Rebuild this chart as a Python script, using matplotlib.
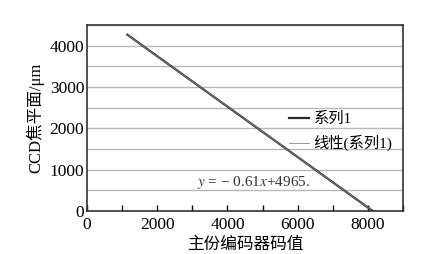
import matplotlib.pyplot as plt
import numpy as np

plt.rcParams['font.family'] = ['Liberation Serif', 'Noto Sans CJK SC']
plt.rcParams['axes.unicode_minus'] = False
plt.rcParams['mathtext.fontset'] = 'stix'

# 数据
x_code = [1150, 2000, 3000, 4000, 5000, 6000, 7000, 8140]
y_focus = [4265, 3745, 3135, 2525, 1915, 1305, 695, 0]
slope = -0.61
intercept = 4965

fig = plt.figure(figsize=(4.43, 2.54), dpi=100)
ax = fig.add_axes([87 / 443, 43 / 254, 316 / 443, 186 / 254])

ax.set_xlim(0, 9000)
ax.set_ylim(0, 4500)
ax.set_yticks(np.arange(0, 4001, 1000))
ax.set_yticks(np.arange(0, 4501, 500), minor=True)
ax.set_xticks(np.arange(0, 8001, 2000))
ax.set_xticks(np.arange(0, 9001, 1000), minor=True)
ax.yaxis.grid(True, which='both', color='#b8b8b8', linewidth=1.0)
ax.set_axisbelow(True)

ax.tick_params(axis='x', which='both', direction='in', length=4, width=1, labelsize=12.5, pad=4)
ax.tick_params(axis='y', which='both', length=0, labelsize=12.5, pad=2)
for s in ax.spines.values():
    s.set_linewidth(1.2)
    s.set_color('#333333')

ax.plot(x_code, y_focus, color='#2a2a2a', linewidth=1.6, label='系列1')
xt = np.array([x_code[0], x_code[-1]])
ax.plot(xt, slope * xt + intercept, color='#888888', linewidth=0.6, label='线性(系列1)')

ax.legend(loc='upper left', bbox_to_anchor=(0.62, 0.565), frameon=False, fontsize=11,
          handlelength=1.3, handletextpad=0.3, labelspacing=0.55, borderaxespad=0)

ax.text(4730, 700, r'$y$ = − 0.61$x$+4965.', fontsize=11, ha='center', va='center',
        color='#333333', family=['Liberation Serif', 'DejaVu Sans'])

ax.set_xlabel('主份编码器码值', fontsize=12, labelpad=3)
ax.set_ylabel('CCD焦平面/μm', fontsize=12, labelpad=4)

fig.savefig('out.png', dpi=100)
